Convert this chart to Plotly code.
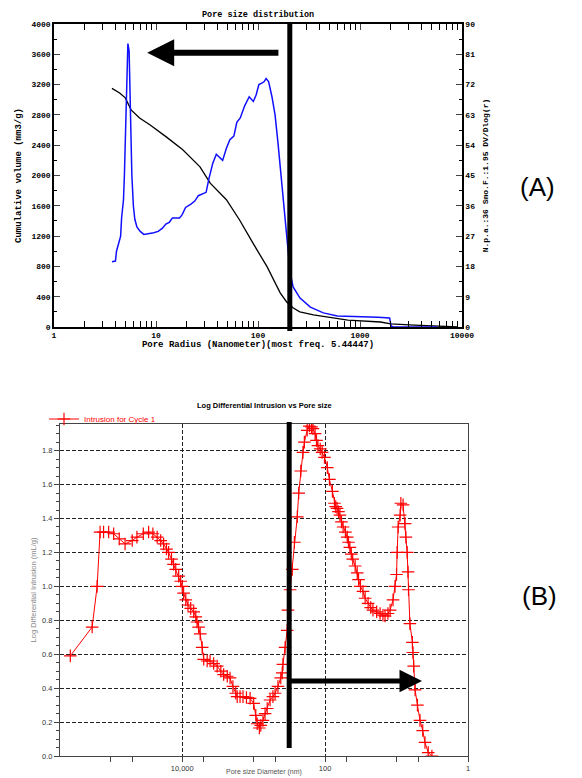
import plotly.graph_objects as go
import numpy as np

# The page body adds an 8px margin; the figure is sized to fill the rest of the window.
PAGE_OFF = 8
W, H = 582 - PAGE_OFF, 778 - PAGE_OFF

# ---------------- Chart A data ----------------
a_blue_x = [3.7, 4.0, 4.1, 4.3, 4.5, 4.6, 4.8, 4.9, 5.0, 5.1, 5.2, 5.3, 5.45, 5.55, 5.65, 5.8,
            6.0, 6.2, 6.5, 7.0, 7.6, 8.5, 9.5, 10.5, 11.5, 12.5, 13.5, 14.5, 17, 18, 19.5, 22,
            24, 26, 29, 31, 33, 36, 39, 42, 45, 49, 53, 58, 62, 67, 74, 82, 90, 96, 102, 110,
            115, 120, 127, 137, 147, 157, 167, 178, 189, 200, 207, 221, 258, 326, 437, 600,
            1000, 1500, 1950, 2020, 2100, 5700]
a_blue_y = [19.4, 19.6, 22.5, 24.8, 27.0, 32.4, 37.8, 45.0, 55.0, 66.0, 76.5, 84.2, 82.0, 72.0,
            58.5, 45.0, 36.0, 32.0, 29.7, 28.4, 27.5, 27.7, 28.0, 28.4, 29.3, 30.6, 31.1, 32.4,
            32.4, 33.3, 35.5, 36.5, 37.4, 39.0, 39.6, 40.0, 44.0, 48.6, 51.3, 50.4, 49.5, 53.1,
            55.6, 56.7, 60.8, 62.1, 65.7, 68.4, 67.0, 69.0, 72.0, 72.5, 72.9, 73.8, 72.9, 68.4,
            63.0, 54.7, 45.7, 35.7, 26.8, 20.0, 16.0, 11.9, 8.6, 5.9, 4.2, 3.3, 3.2, 2.9, 2.7,
            0.3, 0.0, 0.0]

a_cum_x = [3.7, 4.4, 5.0, 5.4, 5.7, 6.9, 8.7, 12.6, 18.3, 27, 34, 49, 66, 89, 123, 165, 191,
           222, 257, 350, 760, 1590, 2000, 3400, 5300, 9100]
a_cum_y = [3150, 3090, 3025, 2940, 2866, 2760, 2670, 2510, 2340, 2115, 1900, 1680, 1413, 1110,
           793, 450, 330, 250, 200, 160, 92, 66, 40, 26, 10, 0]

a_xticks = [1, 10, 100, 1000, 10000]
a_xticktext = ["1", "10", "100", "1000", "10000"]

# ---------------- Chart B data ----------------
b_x = [368000, 182000, 155000, 141000, 126000, 107000, 91000, 76000, 63000, 50000, 43000,
       35000, 29500, 25700, 22400, 20000, 18200, 16600, 15500, 14100, 13200, 12300, 11200,
       10500, 10000, 9550, 8900, 8300, 7600, 6900, 6450, 6200, 5900, 5600, 5250, 5000, 4470,
       4070, 3630, 3240, 2880, 2630, 2340, 2140, 1950, 1780, 1700, 1550, 1410, 1260, 1120,
       1000, 933, 891, 832, 794, 741, 692, 646, 589, 537, 501, 457, 417, 398, 389, 363, 339,
       331, 309, 288, 269, 245, 234, 219, 204, 195, 178, 166, 155, 148, 138, 132, 126, 117,
       110, 102, 93, 87, 79, 74, 71, 68, 65, 62, 59, 56, 52, 49, 47, 45, 43, 41, 38, 35.5, 34,
       32, 29.5, 27.5, 25, 23, 21.4, 19, 17, 15.5, 14.5, 13.2, 12.3, 11.2, 10.5, 10, 9.8, 9.5,
       8.9, 8.7, 8.1, 7.6, 7.4, 7.1, 6.9, 6.8, 6.5, 6.0, 5.9, 5.75, 5.5, 5.1, 4.7, 4.3, 4.0,
       3.6, 3.2]
b_y = [0.59, 0.76, 1.0, 1.32, 1.32, 1.32, 1.31, 1.28, 1.25, 1.27, 1.29, 1.31, 1.32, 1.31,
       1.29, 1.27, 1.25, 1.22, 1.20, 1.16, 1.13, 1.10, 1.06, 1.03, 1.0, 0.96, 0.92, 0.89, 0.87,
       0.85, 0.82, 0.79, 0.76, 0.72, 0.64, 0.57, 0.56, 0.56, 0.545, 0.53, 0.50, 0.48, 0.47,
       0.46, 0.41, 0.37, 0.35, 0.35, 0.35, 0.345, 0.34, 0.31, 0.24, 0.19, 0.165, 0.18, 0.21,
       0.25, 0.28, 0.33, 0.35, 0.37, 0.41, 0.46, 0.49, 0.54, 0.64, 0.74, 0.86, 0.98, 1.10,
       1.26, 1.41, 1.55, 1.68, 1.79, 1.85, 1.92, 1.945, 1.94, 1.93, 1.90, 1.86, 1.83, 1.81,
       1.79, 1.76, 1.70, 1.63, 1.56, 1.49, 1.47, 1.46, 1.44, 1.42, 1.38, 1.35, 1.32, 1.29,
       1.26, 1.23, 1.19, 1.16, 1.12, 1.08, 1.04, 1.0, 0.97, 0.93, 0.90, 0.875, 0.86, 0.85,
       0.84, 0.83, 0.825, 0.84, 0.86, 0.92, 1.0, 1.07, 1.20, 1.35, 1.42, 1.49, 1.48, 1.37,
       1.29, 1.20, 1.085, 0.98, 0.78, 0.67, 0.61, 0.53, 0.39, 0.30, 0.21, 0.15, 0.08, 0.02,
       0.0]

b_xticks = [10000, 100, 1]
b_xticktext = ["10,000", "100", "1"]
b_minor_x = [100000, 50000, 5000, 1000, 500, 50, 10, 5]

# ---------------- geometry helpers (window pixels -> paper fractions) ----------------
def px_x(p):
    return (p - PAGE_OFF) / W

def px_y(p):
    return 1 - (p - PAGE_OFF) / H

mono = "Liberation Mono"
sans = "Liberation Sans, Arial, sans-serif"

fig = go.Figure()

fig.add_trace(go.Scatter(x=a_cum_x, y=a_cum_y, mode="lines", xaxis="x", yaxis="y",
                         line=dict(color="black", width=1.3), showlegend=False))
fig.add_trace(go.Scatter(x=a_blue_x, y=a_blue_y, mode="lines", xaxis="x", yaxis="y2",
                         line=dict(color="#1010ff", width=1.5), showlegend=False))
fig.add_trace(go.Scatter(x=b_x, y=b_y, mode="lines+markers", xaxis="x2", yaxis="y3",
                         name="Intrusion for Cycle 1",
                         line=dict(color="red", width=1),
                         marker=dict(symbol="cross-thin", size=9, color="red",
                                     line=dict(color="red", width=1.2))))

a_minor = [m * 10 ** k for k in range(0, 4) for m in range(2, 10)]
tickA = dict(family=mono, size=8, color="black", weight="bold")

fig.update_layout(
    width=W, height=H, margin=dict(l=0, r=0, t=0, b=0, autoexpand=False),
    paper_bgcolor="white", plot_bgcolor="white",
    xaxis=dict(domain=[px_x(54), px_x(462)], type="log", range=[0, 4], anchor="y",
               tickvals=a_xticks, ticktext=a_xticktext, ticks="inside", ticklen=6,
               mirror="allticks", showline=True, linecolor="black", linewidth=1.5,
               showgrid=False, zeroline=False, tickfont=tickA,
               minor=dict(tickvals=a_minor, ticks="inside", ticklen=3, tickcolor="black"),
               title=dict(text="Pore Radius (Nanometer)(most freq. 5.44447)",
                          font=dict(family=mono, size=9, color="black", weight="bold"),
                          standoff=0)),
    yaxis=dict(domain=[px_y(327), px_y(24)], range=[0, 4000], dtick=400, anchor="x",
               ticks="inside", ticklen=6, showline=True, linecolor="black", linewidth=1.5,
               showgrid=False, zeroline=False, tickfont=tickA,
               minor=dict(dtick=200, ticks="inside", ticklen=3, tickcolor="black"),
               title=dict(text="Cumulative volume (mm3/g)",
                          font=dict(family=mono, size=9, color="black", weight="bold"),
                          standoff=8)),
    yaxis2=dict(overlaying="y", side="right", range=[0, 90], dtick=9, anchor="x",
                ticks="inside", ticklen=6, showline=True, linecolor="black", linewidth=1.5,
                showgrid=False, zeroline=False, tickfont=tickA,
                minor=dict(dtick=4.5, ticks="inside", ticklen=3, tickcolor="black"),
                title=dict(text="N.p.a.:36 Smo.F.:1.95 DV/Dlog(r)",
                           font=dict(family=mono, size=8, color="black", weight="bold"),
                           standoff=8)),
    xaxis2=dict(domain=[px_x(60), px_x(468)], type="log", range=[5.71, 0], anchor="y3",
                tickvals=b_xticks, ticktext=b_xticktext, ticks="outside", ticklen=5,
                showline=True, linecolor="#444", linewidth=1, mirror=True,
                showgrid=True, gridcolor="#222", griddash="4px,2px", gridwidth=1,
                zeroline=False, tickfont=dict(family=sans, size=7.5, color="#333"),
                minor=dict(tickvals=b_minor_x, ticks="outside", ticklen=5, tickcolor="#444",
                           showgrid=False)),
    yaxis3=dict(domain=[px_y(756), px_y(424)], range=[0, 1.957], dtick=0.2, tick0=0,
                tickformat=".1f", anchor="x2", ticks="outside", ticklen=5,
                showline=True, linecolor="#444", linewidth=1, mirror=True,
                showgrid=True, gridcolor="#222", griddash="4px,2px", gridwidth=1,
                zeroline=False, tickfont=dict(family=sans, size=7.5, color="#333"),
                minor=dict(dtick=0.05, ticks="outside", ticklen=3, tickcolor="#444"),
                title=dict(text="Log Differential Intrusion (mL/g)",
                           font=dict(family=sans, size=7.5, color="#888"), standoff=4)),
    legend=dict(x=px_x(44), y=px_y(419), xanchor="left", yanchor="middle",
                bgcolor="rgba(0,0,0,0)", font=dict(family=sans, size=8, color="red")),
    showlegend=True,
)

# Titles and panel labels
fig.add_annotation(text="Pore size distribution", x=px_x(258), y=px_y(15), xref="paper",
                   yref="paper", yanchor="middle", showarrow=False,
                   font=dict(family=mono, size=8.5, color="black", weight="bold"))
fig.add_annotation(text="Log Differential Intrusion vs Pore size", x=px_x(264), y=px_y(405),
                   xref="paper", yref="paper", showarrow=False,
                   font=dict(family=sans, size=7.5, color="black", weight="bold"))
fig.add_annotation(text="Pore size Diameter (nm)", x=px_x(264), y=px_y(772), xref="paper",
                   yref="paper", yanchor="middle", showarrow=False,
                   font=dict(family=sans, size=7, color="#555"))
fig.add_annotation(text="(A)", x=px_x(557), y=px_y(170), xref="paper", yref="paper",
                   showarrow=False, font=dict(family=sans, size=26, color="black"))
fig.add_annotation(text="(B)", x=px_x(559), y=px_y(613), xref="paper", yref="paper",
                   showarrow=False, font=dict(family=sans, size=26, color="black"))

# Thick vertical markers (shape x in data units on log axes)
a_line_x = 205
b_line_x = 318
fig.add_shape(type="line", xref="x", yref="paper", x0=a_line_x, x1=a_line_x,
              y0=px_y(331), y1=px_y(22), line=dict(color="black", width=5))
fig.add_shape(type="line", xref="x2", yref="paper", x0=b_line_x, x1=b_line_x,
              y0=px_y(748), y1=px_y(422), line=dict(color="black", width=5))

# Arrows (annotation positions in log10 units on log axes)
fig.add_annotation(x=np.log10(8.2), y=3620, ax=np.log10(164), ay=3620, xref="x", yref="y",
                   axref="x", ayref="y", showarrow=True, arrowhead=2, arrowsize=0.9,
                   arrowwidth=6, arrowcolor="black", text="")
fig.add_annotation(x=np.log10(4.4), y=0.442, ax=np.log10(b_line_x), ay=0.442, xref="x2",
                   yref="y3", axref="x2", ayref="y3", showarrow=True, arrowhead=2,
                   arrowsize=0.9, arrowwidth=5, arrowcolor="black", text="")

fig.write_html("out.html")
